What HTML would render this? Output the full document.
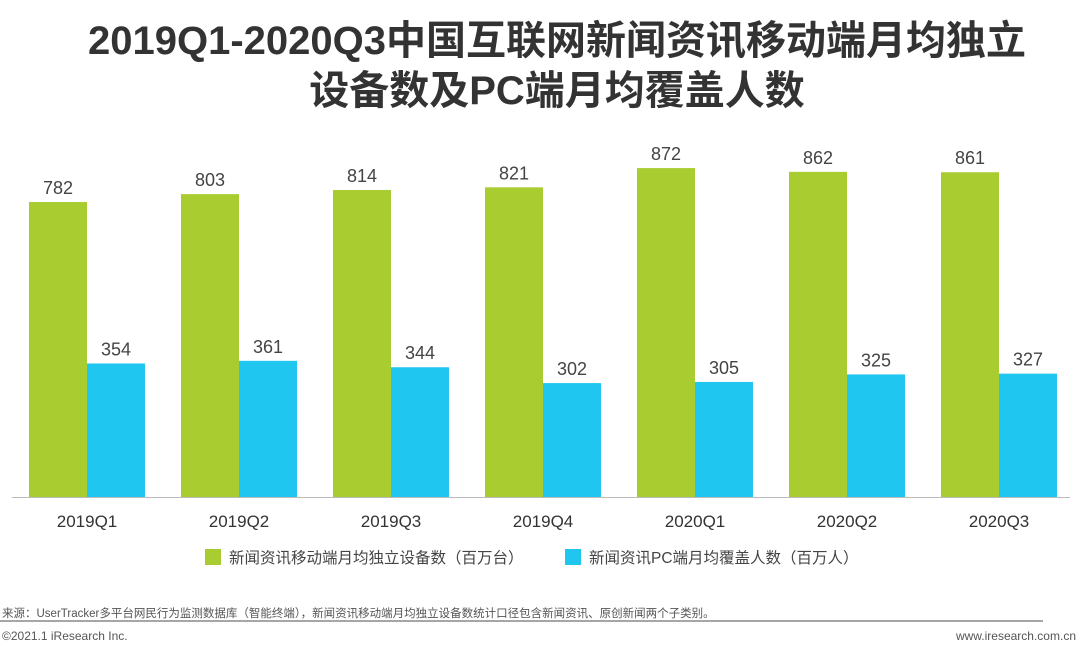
<!DOCTYPE html>
<html><head><meta charset="utf-8"><style>
body{margin:0;width:1080px;height:657px;background:#fff;overflow:hidden;font-family:"Liberation Sans","Noto Sans CJK SC",sans-serif;}
.t{position:absolute;left:0;width:1114px;text-align:center;font-weight:bold;font-size:40px;line-height:48px;color:#333;}
</style></head><body>
<div class="t" style="top:17px">2019Q1-2020Q3中国互联网新闻资讯移动端月均独立</div>
<div class="t" style="top:67px">设备数及PC端月均覆盖人数</div>
<svg id="c" width="1080" height="657" style="position:absolute;left:0;top:0"></svg>
<script>
const categories=["2019Q1","2019Q2","2019Q3","2019Q4","2020Q1","2020Q2","2020Q3"];
const mobileValues=[782,803,814,821,872,862,861];
const pcValues=[354,361,344,302,305,325,327];
const legendLabels=["新闻资讯移动端月均独立设备数（百万台）","新闻资讯PC端月均覆盖人数（百万人）"];
const svg=document.getElementById('c');const NS="http://www.w3.org/2000/svg";
function mk(t,a,p){const e=document.createElementNS(NS,t);for(const k in a)e.setAttribute(k,a[k]);(p||svg).appendChild(e);return e;}
const base=497,scale=0.3772;
function y(v){return base-v*scale;}
function gx(i){return 29+i*152;}
const bw=58;
categories.forEach((c,i)=>{
 const x=gx(i);
 let r=mk('rect',{x:x,y:y(mobileValues[i]),width:bw,height:base-y(mobileValues[i]),fill:'#a9cd31'});
 
 
 let t=mk('text',{x:x+bw/2,y:y(mobileValues[i])-8,'text-anchor':'middle','font-size':18,fill:'#444'});t.textContent=mobileValues[i];
 
 
 r=mk('rect',{x:x+bw,y:y(pcValues[i]),width:bw,height:base-y(pcValues[i]),fill:'#1fc7f0'});
 
 
 t=mk('text',{x:x+bw*1.5,y:y(pcValues[i])-8,'text-anchor':'middle','font-size':18,fill:'#444'});t.textContent=pcValues[i];
 
 
 t=mk('text',{x:x+bw,y:527,'text-anchor':'middle','font-size':17,fill:'#333'});t.textContent=c;
 
 
});
let ax=mk('line',{x1:12,x2:1070,y1:base+0.5,y2:base+0.5,stroke:'#bbb','stroke-width':1});


const lx=[205,565],lc=['#a9cd31','#1fc7f0'];
legendLabels.forEach((l,i)=>{
 const g=mk('g',{});
 
 
 mk('rect',{x:lx[i],y:549,width:16,height:16,fill:lc[i]},g);
 const t=mk('text',{x:lx[i]+24,y:563,'font-size':15.5,fill:'#444'},g);t.textContent=l;
});
let s=mk('text',{x:2,y:617,'font-size':11.5,fill:'#555'});s.textContent="来源：UserTracker多平台网民行为监测数据库（智能终端），新闻资讯移动端月均独立设备数统计口径包含新闻资讯、原创新闻两个子类别。";


let ln=mk('line',{x1:0,x2:1043,y1:621,y2:621,stroke:'#888','stroke-width':1.5});


s=mk('text',{x:2,y:640,'font-size':12,fill:'#555'});s.textContent="©2021.1 iResearch Inc.";


s=mk('text',{x:1076,y:640,'font-size':12,fill:'#555','text-anchor':'end'});s.textContent="www.iresearch.com.cn";


</script>
</body></html>
